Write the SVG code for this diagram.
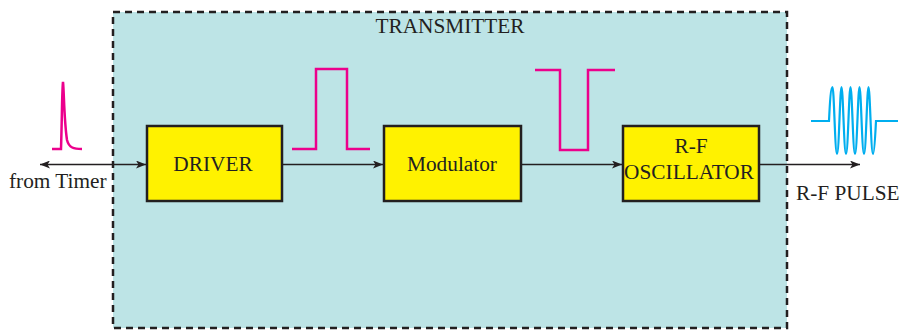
<svg xmlns="http://www.w3.org/2000/svg" width="900" height="332" viewBox="0 0 900 332">
<defs>
<style>
text{font-family:"Liberation Serif","Times New Roman",serif;font-size:21.3px;fill:#231f20}
.blk{fill:#fff200;stroke:#231f20;stroke-width:2.5}
.wire{stroke:#231f20;stroke-width:1.5;fill:none}
.pink{stroke:#ec008c;stroke-width:2.5;fill:none}
.blue{stroke:#00aeef;stroke-width:2.2;fill:none}
</style>
<marker id="ah" viewBox="0 0 10 8" refX="10" refY="4" markerWidth="10" markerHeight="8" markerUnits="userSpaceOnUse" orient="auto-start-reverse">
<path d="M0,0 L10,4 L0,8 L2.5,4 Z" fill="#231f20"/>
</marker>
</defs>
<g id="transmitter">
<rect x="113" y="12" width="674" height="316" fill="#bde4e6" stroke="#231f20" stroke-width="2.5" stroke-dasharray="7,5"/>
<text x="450" y="33" text-anchor="middle">TRANSMITTER</text>
</g>
<g id="connectors">
<line class="wire" x1="40" y1="164.5" x2="146" y2="164.5" marker-start="url(#ah)" marker-end="url(#ah)"/>
<line class="wire" x1="282" y1="164.5" x2="383" y2="164.5" marker-end="url(#ah)"/>
<line class="wire" x1="521" y1="164.5" x2="622" y2="164.5" marker-end="url(#ah)"/>
<line class="wire" x1="760" y1="164.5" x2="860" y2="164.5" marker-end="url(#ah)"/>
</g>
<g id="driver">
<rect class="blk" x="147" y="126" width="135" height="75"/>
<text x="213" y="171" text-anchor="middle">DRIVER</text>
</g>
<g id="modulator">
<rect class="blk" x="384" y="126" width="137" height="75"/>
<text x="452" y="171" text-anchor="middle">Modulator</text>
</g>
<g id="rf-oscillator">
<rect class="blk" x="623" y="126" width="136" height="75"/>
<text x="691" y="153" text-anchor="middle">R-F</text>
<text x="689" y="179" text-anchor="middle">OSCILLATOR</text>
</g>
<g id="from-timer">
<path class="pink" d="M52,149 H61 C62,120 62,90 63,82 C64,90 64,120 67,140 C69,148 74,149 82,149"/>
<text x="9" y="188">from Timer</text>
</g>
<g id="pulse-driver">
<path class="pink" d="M292,149 H316 V69 H347 V149 H370"/>
</g>
<g id="pulse-modulator">
<path class="pink" d="M535,70 H560 V150 H588 V70 H615"/>
</g>
<g id="rf-pulse">
<path class="blue" d="M811,121 H829 C830,100 831,87 832.5,87 C834,87 835,154 837,154 C839,154 840,87 841.5,87 C843,87 844,154 846,154 C848,154 849,87 850.5,87 C852,87 853,154 855,154 C857,154 858,87 859.5,87 C861,87 862,154 864,154 C866,154 867,87 868.5,87 C870,87 871,154 873,154 C874.5,154 875.5,130 876,121 H898"/>
<text x="796" y="200">R-F PULSE</text>
</g>
</svg>
